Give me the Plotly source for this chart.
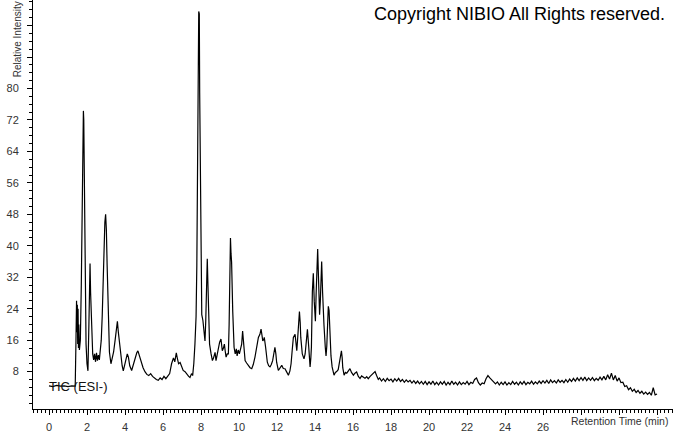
import plotly.graph_objects as go

# Retention time (min) and relative intensity
times = [
    0.0, 0.2, 0.4, 0.6, 0.8, 1.0, 1.2, 1.38,
    1.42, 1.45, 1.47, 1.49, 1.51, 1.53, 1.55, 1.57, 1.6, 1.65, 1.7, 1.75, 1.78, 1.81, 1.83, 1.86, 1.9, 1.95,
    2.0, 2.05, 2.1, 2.14, 2.16, 2.19, 2.24, 2.3, 2.35, 2.4, 2.45, 2.5, 2.55, 2.6, 2.65, 2.7, 2.75, 2.8, 2.88, 2.94, 2.98,
    3.02, 3.06, 3.12, 3.18, 3.26, 3.32, 3.4, 3.48, 3.55, 3.6, 3.65, 3.7, 3.78, 3.85, 3.91, 3.98,
    4.05, 4.12, 4.18, 4.25, 4.35, 4.45, 4.55, 4.62, 4.68, 4.75, 4.85, 4.95,
    5.05, 5.15, 5.25, 5.35, 5.45, 5.55, 5.65, 5.75, 5.85, 5.95,
    6.05, 6.15, 6.25, 6.35, 6.45, 6.55, 6.62, 6.7, 6.75, 6.82, 6.9, 6.98,
    7.06, 7.16, 7.26, 7.35, 7.42, 7.5, 7.56, 7.62, 7.68, 7.74, 7.78, 7.82, 7.86, 7.88, 7.91, 7.93, 7.97,
    8.0, 8.04, 8.1, 8.16, 8.21, 8.25, 8.29, 8.33, 8.36, 8.4, 8.45, 8.53, 8.6, 8.66, 8.74, 8.79, 8.85, 8.91, 8.98,
    9.05, 9.12, 9.18, 9.23, 9.28, 9.32, 9.38, 9.44, 9.48, 9.52, 9.55, 9.58, 9.61, 9.67, 9.74, 9.8, 9.86, 9.9, 9.96,
    10.02, 10.08, 10.14, 10.19, 10.22, 10.26, 10.32, 10.4, 10.49, 10.58, 10.67, 10.75, 10.84, 10.93,
    11.02, 11.1, 11.16, 11.21, 11.25, 11.3, 11.33, 11.4, 11.45, 11.49, 11.56, 11.63, 11.7, 11.77, 11.84, 11.89, 11.94, 11.98,
    12.07, 12.16, 12.25, 12.33, 12.42, 12.5, 12.6, 12.68, 12.74, 12.8, 12.86, 12.95,
    13.0, 13.04, 13.08, 13.12, 13.18, 13.22, 13.25, 13.33, 13.42, 13.48, 13.53, 13.6, 13.67, 13.74, 13.78, 13.81, 13.86, 13.91, 13.96,
    14.02, 14.06, 14.1, 14.14, 14.17, 14.21, 14.24, 14.28, 14.32, 14.35, 14.4, 14.44, 14.47, 14.54, 14.58, 14.62, 14.66, 14.7, 14.74, 14.78, 14.84, 14.9,
    15.0, 15.07, 15.14, 15.22, 15.28, 15.34, 15.39, 15.43, 15.46, 15.53, 15.6, 15.67, 15.75, 15.84, 15.92,
    16.02, 16.1, 16.19, 16.28, 16.37, 16.45, 16.54, 16.63, 16.72, 16.8, 16.9, 16.98,
    17.07, 17.16, 17.24, 17.33,
    17.4, 17.5, 17.6, 17.7, 17.8, 17.9, 18.0, 18.1, 18.2, 18.3, 18.4, 18.5, 18.6, 18.7, 18.8, 18.9,
    19.0, 19.1, 19.2, 19.3, 19.4, 19.5, 19.6, 19.7, 19.8, 19.9, 20.0, 20.1, 20.2, 20.3, 20.4, 20.5, 20.6, 20.7, 20.8, 20.9,
    21.0, 21.1, 21.2, 21.3, 21.4, 21.5, 21.6, 21.7, 21.8, 21.9, 22.0, 22.1, 22.2, 22.3, 22.4, 22.5, 22.6, 22.7, 22.8, 22.9,
    23.0, 23.1, 23.2, 23.3, 23.4, 23.5, 23.6, 23.7, 23.8, 23.9, 24.0, 24.1, 24.2, 24.3, 24.4, 24.5, 24.6, 24.7, 24.8, 24.9,
    25.0, 25.1, 25.2, 25.3, 25.4, 25.5, 25.6, 25.7, 25.8, 25.9, 26.0, 26.1, 26.2, 26.3, 26.4, 26.5, 26.6, 26.7, 26.8, 26.9,
    27.0, 27.1, 27.2, 27.3, 27.4, 27.5, 27.6, 27.7, 27.8, 27.9, 28.0, 28.1, 28.2, 28.3, 28.4, 28.5, 28.6, 28.7, 28.8, 28.9,
    29.0, 29.1, 29.2, 29.3, 29.4, 29.5, 29.6, 29.7, 29.8, 29.9, 30.0, 30.1, 30.2, 30.3, 30.4, 30.5, 30.6, 30.7, 30.8, 30.9,
    31.0, 31.1, 31.2, 31.3, 31.4, 31.5, 31.6, 31.7, 31.8, 31.9, 32.0,
]
intensity = [
    4.4, 4.2, 4.5, 4.3, 4.4, 4.2, 4.4, 4.3,
    16, 26, 18, 25, 15, 24, 14, 20, 13.5, 16, 30, 55, 70, 74.3, 72, 55, 30, 15,
    10, 8.2, 20, 33, 35.5, 28, 18, 12.5, 11, 12.5, 10.5, 12.8, 10.8, 12.2, 11, 13, 16, 22, 38, 46, 48,
    44, 35, 20, 13, 10, 11, 13, 16, 19, 20.8, 18, 15.5, 12, 9.5, 8.2, 9.5,
    11, 12.5, 11.7, 9.5, 8.3, 10, 12, 12.8, 13.3, 12, 10.5, 9,
    8, 7.3, 7.0, 7.5, 6.8, 6.3, 6.0, 5.8, 6.4, 6.0,
    6.8, 6.2, 7.0, 7.5, 10.0, 11.5, 10.5, 12.8, 11.5, 10.0, 10.3, 9.0,
    8.3, 8.0, 7.2, 6.8, 6.5, 7.5, 7.0, 10, 15, 22, 35, 60.8, 79, 99.6, 99, 79, 50,
    30, 22.5, 21, 18, 15.8, 21, 30, 36.7, 31, 22, 15, 12.5, 10.8, 11.5, 12.9, 10.8, 12.5, 14.2, 15.5,
    16.3, 13.3, 14, 15, 13, 11.7, 12.5, 12.5, 20, 38, 42, 38, 35.8, 23.3, 14.2, 12.5, 13.8, 12, 13.5,
    12.5, 14, 15, 18.3, 16.5, 14, 10.8, 10.2, 9.6, 9.0, 8.75, 9.8, 11.7, 14,
    16.7, 17.5, 18.8, 17.2, 15.8, 16.2, 16.7, 14.2, 12, 10.4, 9.5, 9.2, 9.8, 10.8, 12.8, 14.2, 12.5, 10.4,
    8.3, 9.0, 9.6, 8.8, 8.75, 8.0, 7.1, 8.2, 10.0, 13.5, 16.7, 17.5,
    15.5, 13.3, 16, 19.2, 23.3, 20.5, 16.7, 12.5, 11.25, 12.5, 15, 18.75, 14.2, 9.2, 11.5, 14.2, 28.3, 33, 25.8,
    20.8, 28, 36, 39.2, 34, 28, 22.5, 26, 33, 36, 28, 22, 20, 14.2, 12, 14.5, 20, 24.6, 23.5, 17, 12, 9.2,
    7.1, 7.8, 8, 8.5, 10, 12, 13.3, 11.5, 9, 7.1, 7.8, 7.6, 8.2, 8.75, 7.8,
    7.1, 7.6, 7.9, 6.8, 6.25, 6.9, 6.7, 6.3, 6.7, 6.2, 6.8, 7.1,
    7.5, 8.0, 7.0, 6.0,
    6.4, 5.6, 6.2, 5.5, 6.3, 5.7, 6.1, 5.4, 6.2, 5.6, 6.3, 5.5, 6.0, 5.3, 5.9, 5.4,
    5.8, 5.1, 5.7, 5.0, 5.6, 4.9, 5.5, 4.8, 5.5, 4.7, 5.4, 4.8, 5.6, 4.7, 5.3, 4.6, 5.4, 4.8, 5.5, 4.6,
    5.3, 4.7, 5.6, 4.8, 5.3, 4.6, 5.4, 4.7, 5.2, 4.8, 5.5, 4.7, 5.3, 5.0, 6.0, 6.4, 5.2, 4.6, 5.1, 4.9,
    6.2, 7.0, 6.4, 5.8, 5.3, 4.9, 5.4, 4.6, 5.3, 4.7, 5.4, 4.6, 5.2, 4.7, 5.5, 4.8, 5.3, 4.6, 5.4, 4.8,
    5.5, 4.7, 5.3, 4.9, 5.6, 4.8, 5.4, 4.9, 5.6, 5.0, 5.7, 5.1, 5.8, 5.0, 5.9, 5.2, 5.7, 5.1, 5.9, 5.3,
    5.8, 5.2, 6.0, 5.3, 6.1, 5.5, 6.3, 5.6, 6.4, 5.7, 6.5, 5.8, 6.6, 5.7, 6.4, 5.8, 6.5, 5.7, 6.3, 5.8,
    6.6, 5.9, 6.8, 5.9, 7.2, 6.1, 7.6, 5.9, 7.0, 5.6, 6.4, 5.2, 5.3, 4.2, 4.4, 3.4, 3.9, 3.0, 3.5, 2.7,
    3.2, 2.5, 3.0, 2.3, 2.8, 2.2, 2.7, 2.0, 3.9, 2.1, 2.3,
]

x_tickvals = [0, 2, 4, 6, 8, 10, 12, 14, 16, 18, 20, 22, 24, 26, 28, 30, 32]
x_ticktext = ["0", "2", "4", "6", "8", "10", "12", "14", "16", "18", "20", "22", "24", "26", "", "", ""]
y_tickvals = [8, 16, 24, 32, 40, 48, 56, 64, 72, 80, 88, 96]
y_ticktext = ["8", "16", "24", "32", "40", "48", "56", "64", "72", "80", "", ""]

W, H = 673, 433
ML, MR, MT, MB = 33, 0, 0, 17
PW, PH = W - ML - MR, H - MT - MB

def px(x):
    return (x - ML) / PW

def py(y):
    return (H - MB - y) / PH

FONT = "Liberation Sans, Arial, sans-serif"
tick_font = dict(family=FONT, size=11, color="#333333")

fig = go.Figure()
fig.add_trace(go.Scatter(
    x=times, y=intensity, mode="lines",
    line=dict(color="#000000", width=1.2),
    hoverinfo="skip", showlegend=False,
))

fig.update_layout(
    width=W, height=H,
    margin=dict(l=ML, r=MR, t=MT, b=MB, pad=0),
    paper_bgcolor="white", plot_bgcolor="white",
    font=tick_font,
    xaxis=dict(
        range=[-0.842, 32.84], showgrid=False, zeroline=False,
        showline=True, linecolor="#000000", linewidth=1,
        ticks="outside", ticklen=5, tickcolor="#000000", tickwidth=1,
        tickmode="array", tickvals=x_tickvals, ticktext=x_ticktext,
        tickfont=tick_font, ticklabelstandoff=3,
        minor=dict(tickmode="linear", tick0=0, dtick=0.2, ticks="outside",
                   ticklen=3, tickcolor="#000000", tickwidth=1, showgrid=False),
    ),
    yaxis=dict(
        range=[-1.5, 102.5], showgrid=False, zeroline=False,
        showline=True, linecolor="#000000", linewidth=1,
        ticks="outside", ticklen=5, tickcolor="#000000", tickwidth=1,
        tickmode="array", tickvals=y_tickvals, ticktext=y_ticktext,
        tickfont=tick_font, ticklabelstandoff=6,
        minor=dict(tickmode="linear", tick0=0, dtick=2, ticks="outside",
                   ticklen=3, tickcolor="#000000", tickwidth=1, showgrid=False),
    ),
    annotations=[
        dict(text="Copyright NIBIO All Rights reserved.", xref="paper", yref="paper",
             x=px(667), y=py(14), xanchor="right", yanchor="middle", showarrow=False,
             font=dict(family=FONT, size=18, color="#000000")),
        dict(text="Relative Intensity", xref="paper", yref="paper",
             x=px(17), y=py(40), xanchor="center", yanchor="middle", textangle=-90,
             showarrow=False,
             font=dict(family=FONT, size=10, color="#333333")),
        dict(text="Retention Time (min)", xref="paper", yref="paper",
             x=px(670), y=py(428), xanchor="right", yanchor="middle", showarrow=False,
             font=dict(family=FONT, size=10.5, color="#333333")),
        dict(text="TIC (ESI-)", xref="paper", yref="paper",
             x=px(47), y=py(393), xanchor="left", yanchor="middle", showarrow=False,
             font=dict(family=FONT, size=13, color="#111111")),
    ],
)

fig.write_html(
    "out.html",
    config={"displayModeBar": False},
    post_script="document.body.style.margin='0';document.body.style.overflow='hidden';",
)
